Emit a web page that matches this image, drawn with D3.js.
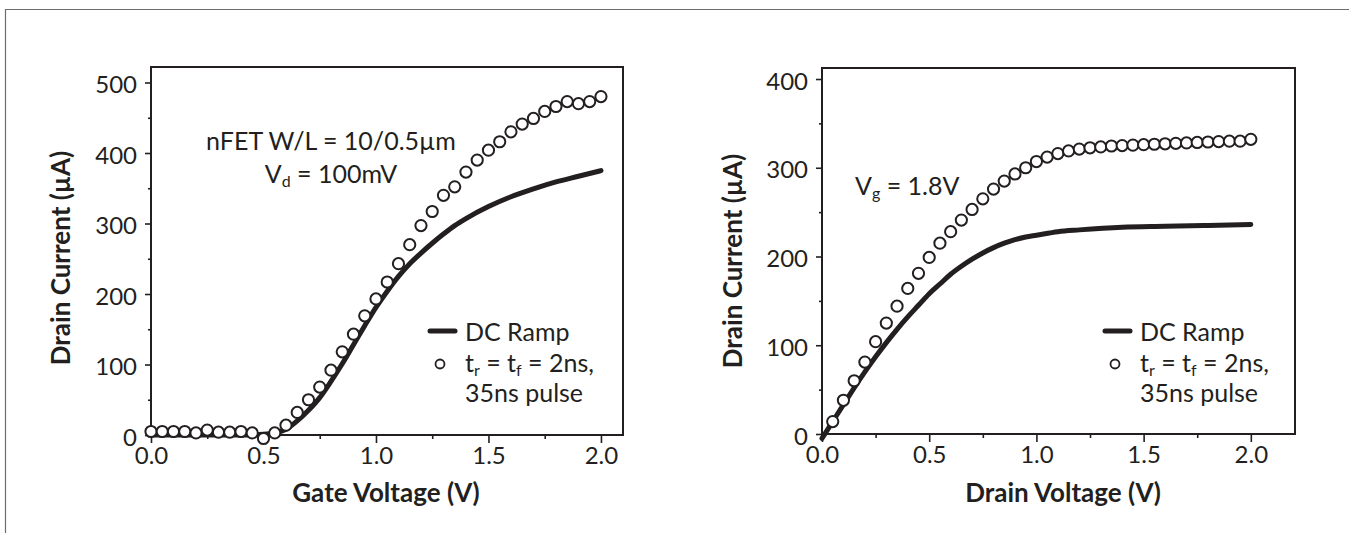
<!DOCTYPE html>
<html>
<head>
<meta charset="utf-8">
<script src="https://cdn.jsdelivr.net/npm/d3@7"></script>
<style>
  body { margin: 0; background: #fff; }
  svg text { font-family: Lato, "Open Sans", sans-serif; fill: #231f20; }
</style>
</head>
<body>
<svg id="chart" width="1349" height="533"></svg>
<script>
// --- data ---
// left panel: Id vs Vg (Vd = 100mV)
const gatePulseV = [0, 0.05, 0.1, 0.15, 0.2, 0.25, 0.3, 0.35, 0.4, 0.45, 0.5, 0.55, 0.6, 0.65, 0.7,
  0.75, 0.8, 0.85, 0.9, 0.95, 1.0, 1.05, 1.1, 1.15, 1.2, 1.25, 1.3, 1.35, 1.4, 1.45, 1.5,
  1.55, 1.6, 1.65, 1.7, 1.75, 1.8, 1.85, 1.9, 1.95, 2.0];
const gatePulseI = [5, 5, 5, 5, 3, 7, 4, 4, 5, 3, -5, 3, 14, 32, 50,
  68, 92, 118, 143, 169, 193, 217, 243, 270, 297, 317, 340, 352, 373, 390, 404,
  416, 430, 441, 449, 459, 466, 473, 470, 473, 480];
const gateDcV = [0, 0.1, 0.2, 0.3, 0.4, 0.5, 0.55, 0.6, 0.65, 0.7, 0.75, 0.8, 0.85, 0.9, 0.95,
  1.0, 1.05, 1.1, 1.15, 1.2, 1.25, 1.3, 1.35, 1.4, 1.5, 1.6, 1.7, 1.8, 1.9, 2.0];
const gateDcI = [0, 0, 0, 0, 0, 1, 3, 8, 20, 35, 53, 76, 101, 128, 155,
  181, 204, 225, 243, 258, 272, 285, 297, 307, 324, 338, 349, 359, 367, 375];

// right panel: Id vs Vd (Vg = 1.8V)
const drainPulseV = [0.05, 0.1, 0.15, 0.2, 0.25, 0.3, 0.35, 0.4, 0.45, 0.5, 0.55, 0.6, 0.65, 0.7,
  0.75, 0.8, 0.85, 0.9, 0.95, 1.0, 1.05, 1.1, 1.15, 1.2, 1.25, 1.3, 1.35, 1.4, 1.45, 1.5,
  1.55, 1.6, 1.65, 1.7, 1.75, 1.8, 1.85, 1.9, 1.95, 2.0];
const drainPulseI = [14, 38, 60, 81, 104, 125, 144, 164, 181, 199, 215, 228, 241, 253,
  265, 276, 285, 293, 300, 307, 312, 316, 319, 321, 322.5, 323.5, 324.5, 325, 325.5, 326,
  326.5, 327, 327.5, 328, 328.5, 329, 329.5, 330, 330, 332];
const drainDcV = [0, 0.05, 0.1, 0.15, 0.2, 0.25, 0.3, 0.35, 0.4, 0.45, 0.5, 0.55, 0.6, 0.65,
  0.7, 0.75, 0.8, 0.85, 0.9, 0.95, 1.0, 1.1, 1.2, 1.4, 1.6, 1.8, 2.0];
const drainDcI = [-5, 14, 33, 52, 70, 87, 103, 118, 132, 145, 158, 169, 180, 189,
  197, 204, 210, 215, 219, 222, 224, 228, 230, 233, 234, 235, 236];

// ticks
const xMajor = [0, 0.5, 1.0, 1.5, 2.0];
const xMinor = [0.25, 0.75, 1.25, 1.75];
const leftYMajor = [0, 100, 200, 300, 400, 500];
const leftYMinor = [50, 150, 250, 350, 450];
const rightYMajor = [0, 100, 200, 300, 400];
const rightYMinor = [50, 150, 250, 350];

const ink = '#231f20';
const svg = d3.select('#chart');

// outer frame (top + left edges only show in the crop)
svg.append('path')
  .attr('d', 'M5.5,533V9.5H1349')
  .attr('fill', 'none')
  .attr('stroke', '#6d6d6d')
  .attr('stroke-width', 1.2);

// text with subscripts: list of parts, sub ones dropped a little
function subText(sel, parts) {
  parts.forEach(p => {
    const ts = sel.append('tspan').text(p.t);
    if (p.sub) ts.attr('dy', 4).style('font-size', '16px');
    else if (p.back) ts.attr('dy', -4);
  });
}

function panel(o) {
  const x = d3.scaleLinear().domain(o.xDomain).range([o.left, o.right]);
  const y = d3.scaleLinear().domain(o.yDomain).range([o.bottom, o.top]);
  const g = svg.append('g');

  // y axis
  const ya = g.append('g').attr('transform', `translate(${o.left},0)`)
    .call(d3.axisLeft(y).tickValues(o.yMajor).tickSize(6).tickPadding(8)
      .tickFormat(d3.format('d')));
  g.append('g').attr('transform', `translate(${o.left},0)`)
    .call(d3.axisLeft(y).tickValues(o.yMinor).tickSize(3).tickFormat(''));

  // x axis
  g.append('g').attr('transform', `translate(0,${o.bottom})`)
    .call(d3.axisBottom(x).tickValues(xMajor).tickSize(8).tickPadding(4)
      .tickFormat(d3.format('.1f')));
  g.append('g').attr('transform', `translate(0,${o.bottom})`)
    .call(d3.axisBottom(x).tickValues(xMinor).tickSize(4).tickFormat(''));

  g.selectAll('.domain').remove();
  g.selectAll('.tick line').attr('stroke', ink).attr('stroke-width', 1.6);
  g.selectAll('.tick text').attr('fill', ink).style('font-size', '24px')
    .style('font-family', 'Lato, sans-serif');
  ya.selectAll('.tick text').attr('dy', '0.42em');

  // plot frame
  g.append('rect')
    .attr('x', o.left).attr('y', o.top)
    .attr('width', o.right - o.left).attr('height', o.bottom - o.top)
    .attr('fill', 'none').attr('stroke', ink).attr('stroke-width', 2);

  // DC ramp line
  const line = d3.line()
    .x((d, i) => x(o.dcV[i]))
    .y(d => y(d))
    .curve(d3.curveMonotoneX);
  g.append('path')
    .datum(o.dcI)
    .attr('d', line)
    .attr('fill', 'none')
    .attr('stroke', ink)
    .attr('stroke-width', 5)
    .attr('stroke-linecap', 'round');

  // pulsed points
  g.selectAll('circle.pt')
    .data(o.pulseI)
    .join('circle')
    .attr('class', 'pt')
    .attr('cx', (d, i) => x(o.pulseV[i]))
    .attr('cy', d => y(d))
    .attr('r', 5.6)
    .attr('fill', '#fff')
    .attr('stroke', ink)
    .attr('stroke-width', 2);

  // axis titles
  g.append('text')
    .attr('x', o.xTitleX).attr('y', 502)
    .attr('text-anchor', 'middle')
    .style('font-size', '26px').style('font-weight', 700)
    .text(o.xTitle);
  g.append('text')
    .attr('transform', `translate(${o.yTitleX},${o.yTitleY}) rotate(-90)`)
    .attr('text-anchor', 'middle')
    .style('font-size', '26px').style('font-weight', 700)
    .text('Drain Current (\u00b5A)');

  // legend
  const lg = g.append('g').attr('transform', `translate(${o.legX},0)`);
  lg.append('line')
    .attr('x1', 0).attr('x2', 25).attr('y1', 331).attr('y2', 331)
    .attr('stroke', ink).attr('stroke-width', 5).attr('stroke-linecap', 'round');
  lg.append('text').attr('x', 35).attr('y', 341)
    .style('font-size', '25px').text('DC Ramp');
  lg.append('circle').attr('cx', 10).attr('cy', 364).attr('r', 4.5)
    .attr('fill', '#fff').attr('stroke', ink).attr('stroke-width', 1.8);
  const t2 = lg.append('text').attr('x', 35).attr('y', 372).style('font-size', '25px');
  subText(t2, [{t: 't'}, {t: 'r', sub: true}, {t: ' = t', back: true},
    {t: 'f', sub: true}, {t: ' = 2ns,', back: true}]);
  lg.append('text').attr('x', 35).attr('y', 402)
    .style('font-size', '25px').text('35ns pulse');

  return g;
}

const gL = panel({
  left: 151, right: 623, top: 67, bottom: 435,
  xDomain: [0, 2.098], yDomain: [0, 522],
  yMajor: leftYMajor, yMinor: leftYMinor,
  dcV: gateDcV, dcI: gateDcI, pulseV: gatePulseV, pulseI: gatePulseI,
  xTitle: 'Gate Voltage (V)', xTitleX: 386,
  yTitleX: 70, yTitleY: 258,
  legX: 430
});

const gR = panel({
  left: 822, right: 1295, top: 68, bottom: 434,
  xDomain: [0, 2.206], yDomain: [0, 412.4],
  yMajor: rightYMajor, yMinor: rightYMinor,
  dcV: drainDcV, dcI: drainDcI, pulseV: drainPulseV, pulseI: drainPulseI,
  xTitle: 'Drain Voltage (V)', xTitleX: 1063,
  yTitleX: 742, yTitleY: 261,
  legX: 1105
});

// annotations
gL.append('text').attr('x', 331).attr('y', 150)
  .attr('text-anchor', 'middle').style('font-size', '25px')
  .text('nFET W/L = 10/0.5\u00b5m');
const a2 = gL.append('text').attr('x', 331).attr('y', 183)
  .attr('text-anchor', 'middle').style('font-size', '25px');
subText(a2, [{t: 'V'}, {t: 'd', sub: true}, {t: ' = 100mV', back: true}]);

const a3 = gR.append('text').attr('x', 855).attr('y', 195).style('font-size', '25px');
subText(a3, [{t: 'V'}, {t: 'g', sub: true}, {t: ' = 1.8V', back: true}]);
</script>
</body>
</html>
